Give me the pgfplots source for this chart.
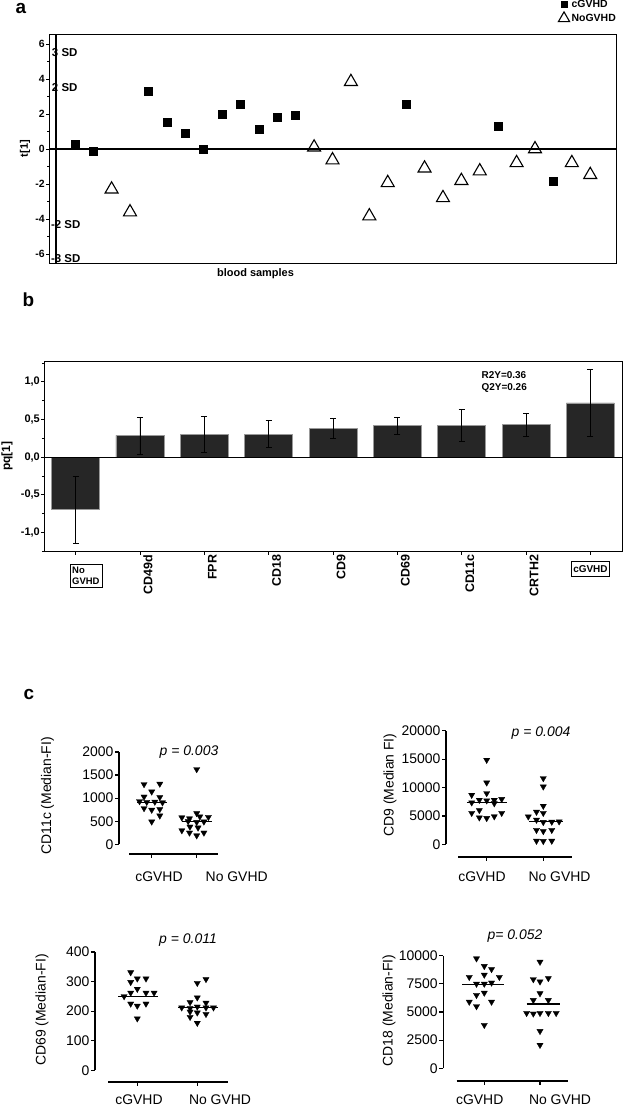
\documentclass[border=0pt]{standalone}
\usepackage{fontspec}
\setmainfont{Liberation Sans}
\usepackage{pgfplots}
\pgfplotsset{compat=1.18}
\usepackage{pgfplotstable}
\newcommand\fsz[1]{\fontsize{#1}{#1}\selectfont}
\definecolor{barc}{RGB}{38,38,38}

\pgfplotstableread{
x y
1 0.29
2 -0.10
5 3.30
6 1.52
7 0.91
8 0.00
9 1.98
10 2.57
11 1.12
12 1.81
13 1.94
19 2.55
24 1.31
27 -1.83
}\aCG
\pgfplotstableread{
x y
3 -2.30
4 -3.60
14 0.10
15 -0.63
16 3.84
17 -3.83
18 -1.93
20 -1.10
21 -2.79
22 -1.81
23 -1.26
25 -0.79
26 0.00
28 -0.79
29 -1.47
}\aNo
\pgfplotstableread{
x y ep em
0 -0.69 0.43 0.456
1 0.288 0.234 0.248
2 0.30 0.235 0.238
3 0.305 0.177 0.172
4 0.38 0.13 0.137
5 0.42 0.11 0.124
6 0.416 0.217 0.208
7 0.434 0.146 0.155
8 0.72 0.445 0.45
}\bdata
\pgfplotstableread{
x y
0.83 1300
1.18 1310
1.00 1140
0.83 1030
1.18 1020
0.73 930
0.89 915
1.07 920
1.24 905
0.83 780
1.00 745
1.18 760
1.18 620
1.00 490
}\cAcg
\pgfplotstableread{
x y
2.00 1625
2.00 672
1.67 580
1.84 560
2.07 600
2.26 590
1.81 500
2.00 480
2.16 490
1.85 380
2.03 360
1.67 300
1.84 250
2.16 250
2.00 190
}\cAno
\pgfplotstableread{
x y
1.00 14850
1.00 10850
0.735 8680
1.00 8980
0.87 7800
1.00 7700
1.134 7800
1.265 7950
0.735 7350
1.134 7200
0.87 6000
0.735 5500
1.265 5500
0.87 4700
1.00 4600
1.134 4900
}\cBcg
\pgfplotstableread{
x y
2.00 11620
2.00 10150
2.00 6750
1.88 5700
2.00 5500
1.735 4870
1.88 4300
2.00 3900
2.15 3950
2.28 4000
1.88 2500
2.00 2300
2.15 2500
1.88 600
2.00 550
2.15 600
}\cBno
\pgfplotstableread{
x y
0.89 331
1.00 310
1.145 310
0.89 298
1.00 275
0.89 262
1.145 262
1.28 262
0.78 250
0.89 225
1.00 218
1.145 225
1.00 175
}\cCcg
\pgfplotstableread{
x y
2.145 308
2.00 295
2.00 246
1.88 230
2.145 228
1.74 212
1.88 210
2.00 215
2.145 212
2.27 212
1.88 198
2.00 195
2.145 190
1.88 180
2.00 160
}\cCno
\pgfplotstableread{
x y
0.86 9750
1.00 9070
1.13 8800
0.73 8100
1.00 8300
1.27 8100
0.86 7500
1.00 7500
1.13 7600
0.86 6500
1.00 6700
0.73 5900
1.13 5900
0.86 5500
1.00 3840
}\cDcg
\pgfplotstableread{
x y
2.00 9450
1.88 7900
2.00 7700
2.15 8000
2.00 6650
1.88 6050
2.15 6050
1.76 4900
1.88 4850
2.00 4900
2.15 4900
2.29 4900
2.00 3300
2.00 2070
}\cDno

\pgfplotsset{
 cstyle/.style={scale only axis, axis x line=none, axis y line=left,
  y axis line style={-, line width=1.2bp},
  scaled y ticks=false,
  ytick pos=left, tick align=outside, major tick length=4bp,
  tick style={line width=1.2bp, black},
  yticklabel style={font=\fsz{14}, inner sep=1.5bp}, clip=false},
 tri/.style={only marks, mark=triangle*, mark size=3.6bp, black,
  mark options={rotate=180, fill=black, line width=0.3bp}},
 med/.style={black, line width=1.3bp},
}

\begin{document}
\begin{tikzpicture}
\useasboundingbox (0,0) rectangle (623bp,-1108bp);

% ---------------- panel a
\begin{axis}[
 at={(49bp,-263bp)}, anchor=south west, scale only axis, width=567bp, height=229bp,
 xmin=-0.4, xmax=30.4, ymin=-6.51, ymax=6.57,
 xtick=\empty, ytick={-6,-4,-2,0,2,4,6}, yticklabels={-6,-4,-2,0,2,4,6},
 minor ytick={-5,-3,-1,1,3,5},
 ytick pos=left, tick align=outside, major tick length=3bp, minor tick length=2bp,
 tick style={black, line width=0.6bp},
 yticklabel style={font=\bfseries\fsz{10.5}, inner sep=1bp},
 axis line style={line width=0.8bp},
 clip=false,
 legend style={at={(1,1)}, anchor=south east, xshift=2bp, yshift=9bp, draw=none, fill=none,
   inner sep=0pt, font=\bfseries\fsz{10.5}, row sep=1bp},
 legend cell align=left,
]
\draw[line width=1.6bp] (axis cs:-0.4,0) -- (axis cs:30.4,0);
\draw[line width=1.8bp] (axis cs:0,-6.51) -- (axis cs:0,6.57);
\addplot[only marks, mark=square*, mark size=4bp, black, legend image post style={mark size=3bp}] table {\aCG};
\addlegendentry{cGVHD}
\addplot[only marks, mark=triangle, mark size=7.5bp, black, mark options={line width=1.1bp}, legend image post style={mark size=6.5bp}] table {\aNo};
\addlegendentry{NoGVHD}
\node[anchor=west, inner sep=0, font=\bfseries\fsz{11.5}] at (axis cs:-0.25,5.50) {3 SD};
\node[anchor=west, inner sep=0, font=\bfseries\fsz{11.5}] at (axis cs:-0.25,3.53) {2 SD};
\node[anchor=west, inner sep=0, font=\bfseries\fsz{11.5}] at (axis cs:-0.30,-4.34) {-2 SD};
\node[anchor=west, inner sep=0, font=\bfseries\fsz{11.5}] at (axis cs:-0.30,-6.28) {-3 SD};
\end{axis}
\node[font=\bfseries\fsz{19}, inner sep=0] at (21bp,-8bp) {a};
\node[font=\bfseries\fsz{11}, inner sep=0, rotate=90] at (25bp,-148.5bp) {t[1]};
\node[font=\bfseries\fsz{11}, inner sep=0] at (255.5bp,-274bp) {blood samples};

% ---------------- panel b
\begin{axis}[
 at={(44bp,-551.7bp)}, anchor=south west, scale only axis, width=578bp, height=190.7bp,
 xmin=-0.49, xmax=8.49, ymin=-1.257, ymax=1.275,
 ybar, bar width=48bp,
 xtick={0,1,2,3,4,5,6,7,8}, xticklabels={,CD49d,FPR,CD18,CD9,CD69,CD11c,CRTH2,},
 xticklabel style={rotate=90, anchor=east, font=\bfseries\fsz{12.5}, inner sep=0pt, yshift=-8bp},
 ytick={-1,-0.5,0,0.5,1}, yticklabels={{-1,0},{-0,5},{0,0},{0,5},{1,0}},
 minor ytick={-1.25,-0.75,-0.25,0.25,0.75,1.25},
 xtick pos=bottom, ytick pos=left, tick align=outside, major tick length=3bp, minor tick length=2bp,
 tick style={black, line width=0.6bp},
 yticklabel style={font=\bfseries\fsz{11}, inner sep=1bp},
 axis line style={line width=0.8bp},
 clip=false,
]
\addplot[fill=barc, draw=gray!80, line width=0.6bp,
  error bars/.cd, y dir=both, y explicit,
  error bar style={black, line width=0.8bp},
  error mark options={rotate=90, black, mark size=3bp, line width=0.8bp}]
  table[x=x, y=y, y error plus=ep, y error minus=em] {\bdata};
\draw[line width=0.8bp] (axis cs:-0.49,0) -- (axis cs:8.49,0);
\node[align=left, font=\bfseries\fontsize{10}{12}\selectfont, inner sep=0] at (axis cs:6.66,0.99) {R2Y=0.36\\Q2Y=0.26};
\node[draw, line width=0.8bp, align=left, inner xsep=1.5bp, inner ysep=3bp, text width=29bp,
  font=\bfseries\fontsize{9.5}{11}\selectfont] at (axis cs:0.174,-1.58) {No\\GVHD};
\node[draw, line width=0.8bp, inner xsep=1.5bp, inner ysep=4bp, font=\bfseries\fsz{10}] at (axis cs:8,-1.49) {cGVHD};
\end{axis}
\node[font=\bfseries\fsz{19}, inner sep=0] at (28.5bp,-300bp) {b};
\node[font=\bfseries\fsz{12}, inner sep=0, rotate=90] at (7bp,-456bp) {pq[1]};

% ---------------- panel c
\node[font=\bfseries\fsz{19}, inner sep=0] at (29bp,-694bp) {c};

% c1 CD11c
\begin{axis}[cstyle, at={(119bp,-844.3bp)}, anchor=south west, width=99.3bp, height=92.3bp,
 xmin=0.2733, xmax=2.48, ymin=0, ymax=2000,
 ytick={0,500,1000,1500,2000}, yticklabels={0,500,1000,1500,2000}]
\addplot[tri] table {\cAcg};
\addplot[tri] table {\cAno};
\addplot[med] coordinates {(0.68,900) (1.33,900)};
\addplot[med] coordinates {(1.67,490) (2.33,490)};
\draw[line width=1.8bp] ([yshift=-10bp]rel axis cs:0.104,0) -- ([yshift=-10bp]rel axis cs:1,0);
\draw[line width=1.2bp] ([yshift=-10bp]axis cs:1,0) -- ([yshift=-14bp]axis cs:1,0);
\draw[line width=1.2bp] ([yshift=-10bp]axis cs:2,0) -- ([yshift=-14bp]axis cs:2,0);
\end{axis}
\node[font=\fsz{14}, inner sep=0, rotate=90] at (47.5bp,-795.7bp) {CD11c (Median-FI)};
\node[font=\itshape\fsz{14}, inner sep=0] at (189bp,-752.5bp) {p = 0.003};
\node[font=\fsz{14}, inner sep=0] at (159bp,-877bp) {cGVHD};
\node[font=\fsz{14}, inner sep=0] at (236.7bp,-877bp) {No GVHD};

% c2 CD9
\begin{axis}[cstyle, at={(446bp,-844.3bp)}, anchor=south west, width=125.7bp, height=113.6bp,
 xmin=0.281, xmax=2.502, ymin=0, ymax=20000,
 ytick={0,5000,10000,15000,20000}, yticklabels={0,5000,10000,15000,20000}]
\addplot[tri] table {\cBcg};
\addplot[tri] table {\cBno};
\addplot[med] coordinates {(0.65,7400) (1.35,7400)};
\addplot[med] coordinates {(1.75,3980) (2.34,3980)};
\draw[line width=1.8bp] ([yshift=-13bp]rel axis cs:0.098,0) -- ([yshift=-13bp]rel axis cs:1,0);
\draw[line width=1.2bp] ([yshift=-13bp]axis cs:1,0) -- ([yshift=-17bp]axis cs:1,0);
\draw[line width=1.2bp] ([yshift=-13bp]axis cs:2,0) -- ([yshift=-17bp]axis cs:2,0);
\end{axis}
\node[font=\fsz{14}, inner sep=0, rotate=90] at (390bp,-785bp) {CD9 (Median FI)};
\node[font=\itshape\fsz{14}, inner sep=0] at (541bp,-732.7bp) {p = 0.004};
\node[font=\fsz{14}, inner sep=0] at (482bp,-876.7bp) {cGVHD};
\node[font=\fsz{14}, inner sep=0] at (559.5bp,-876.7bp) {No GVHD};

% c3 CD69
\begin{axis}[cstyle, at={(95bp,-1070.3bp)}, anchor=south west, width=132.7bp, height=118.3bp,
 xmin=0.295, xmax=2.507, ymin=0, ymax=400,
 ytick={0,100,200,300,400}, yticklabels={0,100,200,300,400}]
\addplot[tri] table {\cCcg};
\addplot[tri] table {\cCno};
\addplot[med] coordinates {(0.68,250) (1.35,250)};
\addplot[med] coordinates {(1.68,212) (2.35,212)};
\draw[line width=1.8bp] ([yshift=-11.4bp]rel axis cs:0.1,0) -- ([yshift=-11.4bp]rel axis cs:1,0);
\draw[line width=1.2bp] ([yshift=-11.4bp]axis cs:1,0) -- ([yshift=-15.4bp]axis cs:1,0);
\draw[line width=1.2bp] ([yshift=-11.4bp]axis cs:2,0) -- ([yshift=-15.4bp]axis cs:2,0);
\end{axis}
\node[font=\fsz{14}, inner sep=0, rotate=90] at (42bp,-1010bp) {CD69 (Median-FI)};
\node[font=\itshape\fsz{14}, inner sep=0] at (188bp,-940bp) {p = 0.011};
\node[font=\fsz{14}, inner sep=0] at (139bp,-1100bp) {cGVHD};
\node[font=\fsz{14}, inner sep=0] at (220bp,-1100bp) {No GVHD};

% c4 CD18
\begin{axis}[cstyle, at={(443.3bp,-1068.3bp)}, anchor=south west, width=125bp, height=112.6bp,
 xmin=0.264, xmax=2.508, ymin=0, ymax=10000,
 ytick={0,2500,5000,7500,10000}, yticklabels={0,2500,5000,7500,10000}]
\addplot[tri] table {\cDcg};
\addplot[tri] table {\cDno};
\addplot[med] coordinates {(0.6,7470) (1.35,7470)};
\addplot[med] coordinates {(1.76,5700) (2.36,5700)};
\draw[line width=1.8bp] ([yshift=-12.4bp]rel axis cs:0.107,0) -- ([yshift=-12.4bp]rel axis cs:1,0);
\draw[line width=1.2bp] ([yshift=-12.4bp]axis cs:1,0) -- ([yshift=-16.4bp]axis cs:1,0);
\draw[line width=1.2bp] ([yshift=-12.4bp]axis cs:2,0) -- ([yshift=-16.4bp]axis cs:2,0);
\end{axis}
\node[font=\fsz{14}, inner sep=0, rotate=90] at (389bp,-1010.5bp) {CD18 (Median-FI)};
\node[font=\itshape\fsz{14}, inner sep=0] at (515bp,-935.7bp) {p= 0.052};
\node[font=\fsz{14}, inner sep=0] at (479.7bp,-1100bp) {cGVHD};
\node[font=\fsz{14}, inner sep=0] at (560bp,-1100bp) {No GVHD};

\end{tikzpicture}
\end{document}
